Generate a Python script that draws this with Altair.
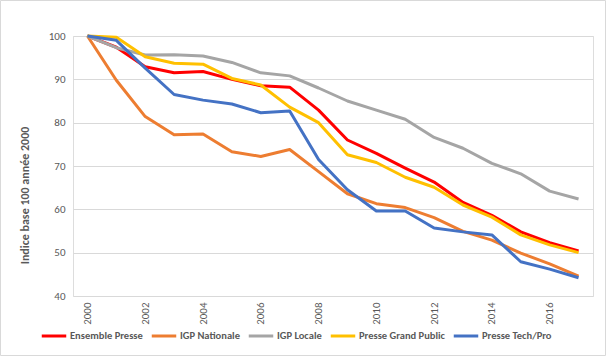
import altair as alt
import pandas as pd

years = ["2000", "2001", "2002", "2003", "2004", "2005", "2006", "2007", "2008",
         "2009", "2010", "2011", "2012", "2013", "2014", "2015", "2016", "2017"]

series_names = ["Ensemble Presse", "IGP Nationale", "IGP Locale",
                "Presse Grand Public", "Presse Tech/Pro"]
series_colors = ["#FF0000", "#ED7D31", "#A5A5A5", "#FFC000", "#4472C4"]

ensemble_presse = [100, 97.4, 92.9, 91.5, 91.8, 90.0, 88.5, 88.2, 82.9, 76.0,
                   72.9, 69.5, 66.3, 61.6, 58.6, 54.8, 52.3, 50.4]
igp_nationale = [100, 89.8, 81.4, 77.2, 77.4, 73.3, 72.2, 73.8, 68.7, 63.6,
                 61.3, 60.4, 58.1, 54.9, 52.9, 49.9, 47.4, 44.6]
igp_locale = [100, 97.3, 95.6, 95.7, 95.4, 93.9, 91.5, 90.8, 88.0, 85.0,
              82.9, 80.8, 76.6, 74.1, 70.6, 68.2, 64.2, 62.4]
presse_grand_public = [100, 99.7, 95.2, 93.7, 93.5, 90.2, 88.7, 83.6, 80.0, 72.6,
                       70.8, 67.4, 65.1, 61.0, 58.2, 54.1, 51.8, 50.0]
presse_tech_pro = [100, 99.0, 92.6, 86.5, 85.2, 84.3, 82.3, 82.7, 71.5, 64.5,
                   59.6, 59.6, 55.7, 54.8, 54.1, 47.9, 46.2, 44.2]

all_values = [ensemble_presse, igp_nationale, igp_locale,
              presse_grand_public, presse_tech_pro]

rows = []
for k, (name, vals) in enumerate(zip(series_names, all_values)):
    for y, v in zip(years, vals):
        rows.append({"annee": y, "indice": v, "serie": name, "ordre": k})
df = pd.DataFrame(rows)

FONT = "Carlito, Lato, sans-serif"
GREY_TXT = "#595959"

lines = alt.Chart(df).mark_line(strokeWidth=3, strokeJoin="round").encode(
    x=alt.X("annee:O", sort=years,
            scale=alt.Scale(type="point", padding=0.5),
            axis=alt.Axis(values=years[::2], labelAngle=-90, ticks=False,
                          domain=False, grid=False, title=None,
                          labelPadding=6, labelFontSize=11,
                          labelColor=GREY_TXT, labelFont=FONT)),
    y=alt.Y("indice:Q",
            scale=alt.Scale(domain=[40, 100], nice=False, zero=False),
            axis=alt.Axis(values=[40, 50, 60, 70, 80, 90, 100], ticks=False,
                          domain=False, grid=True, gridColor="#D9D9D9",
                          gridWidth=1, labelPadding=8, labelFontSize=11,
                          labelColor=GREY_TXT, labelFont=FONT,
                          title="Indice base 100 année 2000",
                          titleFont=FONT, titleFontSize=12,
                          titleFontWeight="bold", titleColor=GREY_TXT,
                          titlePadding=17, titleY=159)),
    color=alt.Color("serie:N",
                    scale=alt.Scale(domain=series_names, range=series_colors),
                    legend=alt.Legend(title=None, orient="none",
                                      direction="horizontal",
                                      legendX=-33, legendY=286,
                                      symbolType="stroke",
                                      symbolStrokeWidth=3,
                                      symbolSize=600,
                                      columnPadding=2,
                                      labelOffset=2,
                                      labelFont=FONT, labelFontSize=10.5,
                                      labelFontWeight=600,
                                      labelColor=GREY_TXT)),
    order=alt.Order("ordre:Q"),
    detail="serie:N",
)

border_df = pd.DataFrame({"k": [0]})
border = alt.Chart(border_df).mark_rect(
    filled=False, stroke="#D9D9D9", strokeWidth=1
).encode(
    x=alt.value(-72.5), x2=alt.value(532.5),
    y=alt.value(-35.5), y2=alt.value(319.5),
)

chart = alt.layer(lines, border).properties(
    width=520, height=260,
    autosize=alt.AutoSizeParams(type="none"),
    padding={"left": 73, "top": 36, "right": 13, "bottom": 60},
).configure_view(stroke=None).configure(background="white")

chart.save("out.html", embed_options={"renderer": "svg", "actions": False})
